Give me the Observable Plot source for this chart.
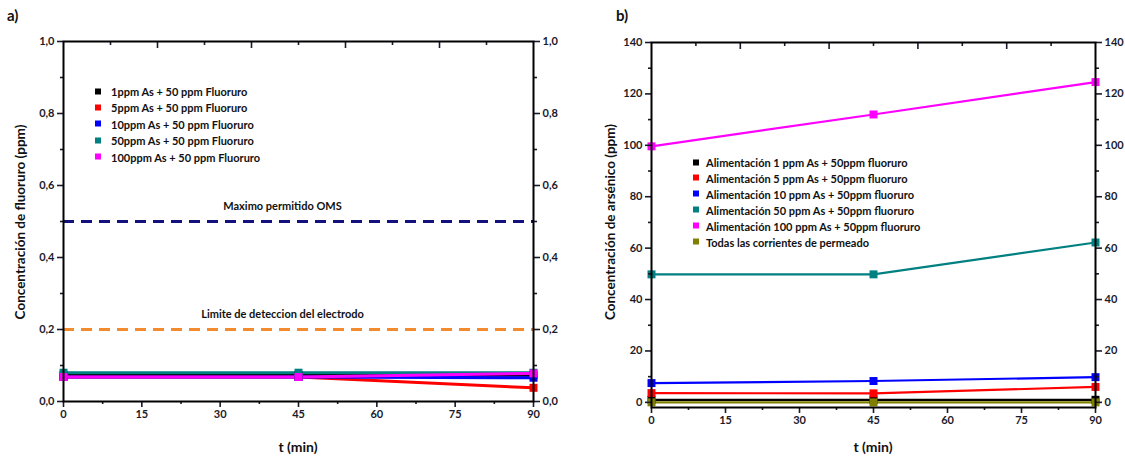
<!DOCTYPE html>
<html><head><meta charset="utf-8">
<script src="https://cdn.jsdelivr.net/npm/d3@7"></script>
<script src="https://cdn.jsdelivr.net/npm/@observablehq/plot@0.6"></script>
<style>
body{margin:0;background:#fff;font-family:Lato,"Open Sans",sans-serif;}
#wrap{position:relative;width:1125px;height:457px;overflow:hidden;background:#fff;}
.panel{position:absolute;top:0;}
.lbl{position:absolute;font-weight:bold;color:#111;white-space:nowrap;}
.ytitle{position:absolute;font-weight:bold;font-size:13.5px;color:#111;white-space:nowrap;transform:translate(-50%,-50%) rotate(-90deg);}
.xtitle{position:absolute;font-weight:bold;font-size:14px;color:#111;white-space:nowrap;transform:translate(-50%,-50%);}
.legend{position:absolute;font-weight:bold;color:#111;}
.legend .row{position:absolute;left:0;white-space:nowrap;display:flex;align-items:center;transform:translateY(-50%);}
.legend .sw{display:inline-block;width:6px;height:6px;}
</style></head>
<body><div id="wrap"></div>
<script>
// ---------- data ----------
const times = [0, 45, 90];

// panel a) fluoride
const fluorSeries = [
  "1ppm As + 50 ppm Fluoruro",
  "5ppm As + 50 ppm Fluoruro",
  "10ppm As + 50 ppm Fluoruro",
  "50ppm As + 50 ppm Fluoruro",
  "100ppm As + 50 ppm Fluoruro"
];
const fluorColors = ["#000000", "#ff0000", "#0000ff", "#008080", "#ff00ff"];
const fluor1 = [0.073, 0.073, 0.073];
const fluor5 = [0.068, 0.068, 0.038];
const fluor10 = [0.068, 0.068, 0.066];
const fluor50 = [0.080, 0.080, 0.080];
const fluor100 = [0.068, 0.068, 0.078];
const fluorValues = [fluor1, fluor5, fluor10, fluor50, fluor100];

const limitLabels = ["Maximo permitido OMS", "Limite de deteccion del electrodo"];
const limitValues = [0.5, 0.2];
const limitColors = ["#12127a", "#f28a2e"];

// panel b) arsenic
const arsSeries = [
  "Alimentación 1 ppm As + 50ppm fluoruro",
  "Alimentación 5 ppm As + 50ppm fluoruro",
  "Alimentación 10 ppm As + 50ppm fluoruro",
  "Alimentación 50 ppm As + 50ppm fluoruro",
  "Alimentación 100 ppm As + 50ppm fluoruro",
  "Todas las corrientes de permeado"
];
const arsColors = ["#000000", "#ff0000", "#0000ff", "#008080", "#ff00ff", "#808000"];
const ars1 = [1, 1, 1];
const ars5 = [3.6, 3.5, 6.0];
const ars10 = [7.5, 8.3, 9.8];
const ars50 = [49.8, 49.8, 62.2];
const ars100 = [99.6, 112.0, 124.6];
const arsPerm = [0, 0, 0];
const arsValues = [ars1, ars5, ars10, ars50, ars100, arsPerm];

// ticks
const xMajor = [0, 15, 30, 45, 60, 75, 90];
const xMinor = [7.5, 22.5, 37.5, 52.5, 67.5, 82.5];
const xTopMajor = [18, 36, 54, 72];
const xTopMinor = [9, 27, 45, 63, 81];
const fYMajor = [0, 0.2, 0.4, 0.6, 0.8, 1.0];
const fYMinor = [0.1, 0.3, 0.5, 0.7, 0.9];
const aYMajor = [0, 20, 40, 60, 80, 100, 120, 140];
const aYMinor = [10, 30, 50, 70, 90, 110, 130];

// ---------- helpers ----------
function rows(series, values) {
  return series.flatMap((s, i) => times.map((t, j) => ({series: s, t, v: values[i][j]})));
}
function axes(yMaj, yMin, fmt) {
  const sw = 1.6;
  return [
    Plot.axisX({ticks: xMajor, tickSize: 6, tickPadding: 3, tickFormat: d => d, label: null, strokeWidth: sw}),
    Plot.axisX({ticks: xMinor, tickSize: 3, fill: "none", tickFormat: () => "", label: null, strokeWidth: sw}),
    Plot.axisX({anchor: "top", ticks: xTopMajor, tickSize: 6, dy: 6, fill: "none", tickFormat: () => "", label: null, strokeWidth: sw}),
    Plot.axisX({anchor: "top", ticks: xTopMinor, tickSize: 3, dy: 3, fill: "none", tickFormat: () => "", label: null, strokeWidth: sw}),
    Plot.axisY({ticks: yMaj, tickSize: 6, tickPadding: 3, tickFormat: fmt, label: null, strokeWidth: sw}),
    Plot.axisY({ticks: yMin, tickSize: 3, fill: "none", tickFormat: () => "", label: null, strokeWidth: sw}),
    Plot.axisY({anchor: "right", ticks: yMaj, tickSize: 6, tickPadding: 3, tickFormat: fmt, label: null, strokeWidth: sw}),
    Plot.axisY({anchor: "right", ticks: yMin, tickSize: 3, fill: "none", tickFormat: () => "", label: null, strokeWidth: sw}),
    Plot.frame({stroke: "#000", strokeWidth: 2})
  ];
}
const baseStyle = {fontFamily: "Lato, 'Open Sans', sans-serif", fontWeight: "bold", fontSize: "11px", color: "#1a1a2a", background: "transparent", overflow: "visible"};

const wrap = document.getElementById("wrap");
function place(el, left) {
  const d = document.createElement("div");
  d.className = "panel"; d.style.left = left + "px";
  d.appendChild(el); wrap.appendChild(d);
}
function addLabel(cls, text, x, y, extra) {
  const d = document.createElement("div");
  d.className = cls; d.textContent = text;
  d.style.left = x + "px"; d.style.top = y + "px";
  if (extra) Object.assign(d.style, extra);
  wrap.appendChild(d);
}
function addLegend(series, colors, left, top, step, fontSize, gap) {
  const lg = document.createElement("div");
  lg.className = "legend"; lg.style.left = left + "px"; lg.style.top = top + "px";
  lg.style.fontSize = fontSize + "px";
  series.forEach((s, i) => {
    const r = document.createElement("div");
    r.className = "row"; r.style.top = (i * step) + "px";
    const sw = document.createElement("span");
    sw.className = "sw"; sw.style.background = colors[i]; sw.style.marginRight = gap + "px";
    const t = document.createElement("span"); t.textContent = s;
    r.appendChild(sw); r.appendChild(t); lg.appendChild(r);
  });
  wrap.appendChild(lg);
}

// ---------- panel a ----------
const fData = rows(fluorSeries, fluorValues);
const limits = limitLabels.map((l, i) => ({label: l, value: limitValues[i], color: limitColors[i]}));
const fmtComma = d => d.toFixed(1).replace(".", ",");
const plotA = Plot.plot({
  width: 560, height: 457,
  marginLeft: 63, marginRight: 27, marginTop: 41, marginBottom: 56,
  style: baseStyle,
  x: {domain: [0, 90]},
  y: {domain: [0, 1]},
  color: {domain: fluorSeries, range: fluorColors},
  marks: [
    Plot.ruleY(limits, {y: "value", stroke: "color", strokeWidth: 3, strokeDasharray: "11,7"}),
    Plot.text(limits, {y: "value", text: "label", frameAnchor: "middle", dx: -16, dy: -15, fontSize: 11, fill: "#111"}),
    Plot.line(fData, {x: "t", y: "v", z: "series", stroke: "series", strokeWidth: 3}),
    Plot.dot(fData, {x: "t", y: "v", fill: "series", symbol: "square", r: 4.5, stroke: null}),
    ...axes(fYMajor, fYMinor, fmtComma)
  ]
});
place(plotA, 0);

// ---------- panel b ----------
const aData = rows(arsSeries, arsValues);
const plotB = Plot.plot({
  width: 565, height: 457,
  marginLeft: 91, marginRight: 30, marginTop: 42, marginBottom: 50,
  style: baseStyle,
  x: {domain: [0, 90]},
  y: {domain: [-2, 140]},
  color: {domain: arsSeries, range: arsColors},
  marks: [
    Plot.line(aData, {x: "t", y: "v", z: "series", stroke: "series", strokeWidth: 2.2}),
    Plot.dot(aData, {x: "t", y: "v", fill: "series", symbol: "square", r: 4.5, stroke: null}),
    ...axes(aYMajor, aYMinor, d => d)
  ]
});
place(plotB, 560);

// ---------- titles & legends ----------
addLabel("lbl", "a)", 7, 6, {fontSize: "15px"});
addLabel("lbl", "b)", 616, 6, {fontSize: "15px"});
addLabel("ytitle", "Concentración de fluoruro (ppm)", 20, 222);
addLabel("ytitle", "Concentración de arsénico (ppm)", 610, 222);
addLabel("xtitle", "t (min)", 298, 446);
addLabel("xtitle", "t (min)", 873, 446);
addLegend(fluorSeries, fluorColors, 95, 91, 16.4, 11, 10);
addLegend(arsSeries, arsColors, 693, 162, 15.9, 11, 7);
</script>
</body></html>
